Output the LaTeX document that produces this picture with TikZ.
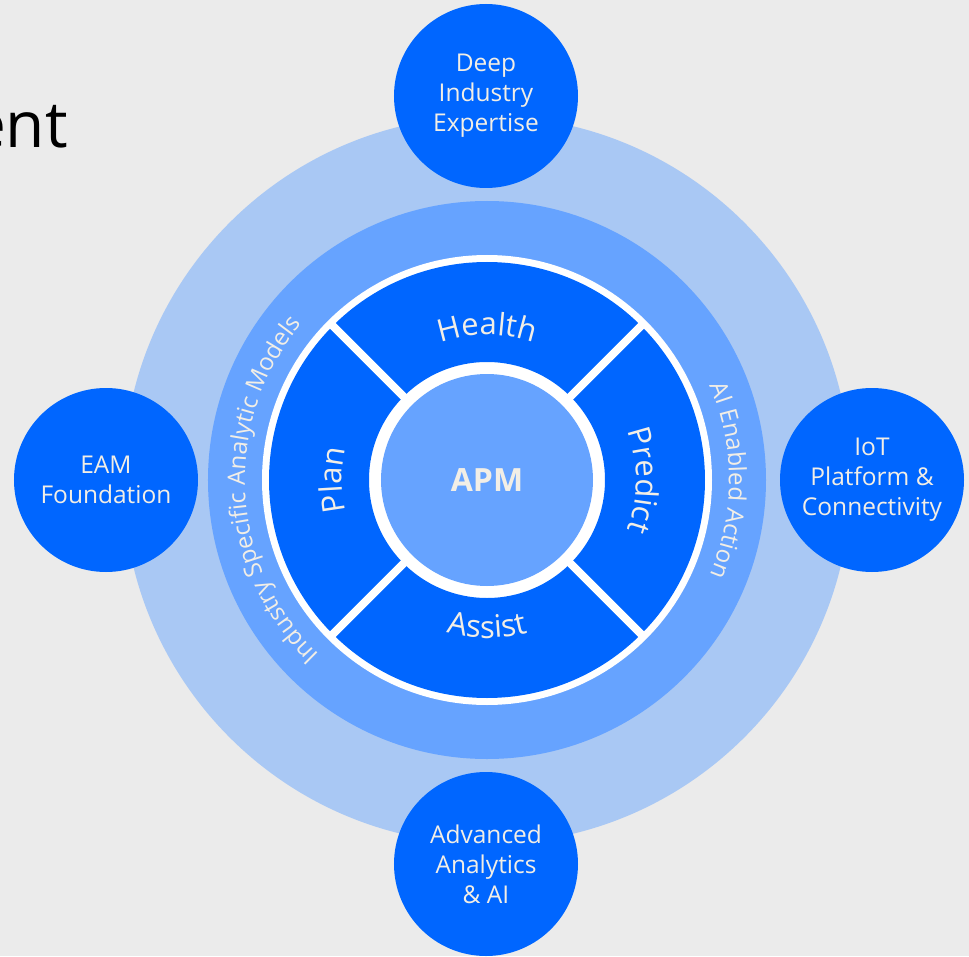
\documentclass[tikz,border=0pt]{standalone}
\usepackage{fontspec}
\setmainfont{Open Sans}
\usetikzlibrary{decorations.text}
\definecolor{bggray}{HTML}{EBEBEB}
\definecolor{apmouter}{HTML}{A9C8F4}
\definecolor{apmmid}{HTML}{66A3FF}
\definecolor{apmdark}{HTML}{0066FF}
\definecolor{cream}{HTML}{F2EEE6}
\newcommand{\ringfont}{\fontsize{24}{24}\selectfont}
\newcommand{\segfont}{\fontsize{31}{31}\selectfont}
\tikzset{x=1pt, y=1pt, % one unit is one pixel of the reference
sat/.style={circle, fill=apmdark, minimum size=184pt, inner sep=0pt, align=center, text=cream, font=\fontsize{24.5}{30}\selectfont}, % the four outer circles
ringtext/.style={decorate, decoration={text along path, text align=center, text color=cream, text={|\ringfont|#1}}}, % labels of the middle ring
segtext/.style={decorate, decoration={text along path, text align=center, text color=cream, text={|\segfont|#1}}}, % labels of the four segments
}
\begin{document}
\begin{tikzpicture}
\useasboundingbox[fill=bggray] (-487,-476) rectangle (482,480);
\node[anchor=base east, inner sep=0pt, font=\fontsize{64}{64}\selectfont] (title) at (-419,332) {ent};
\fill[apmouter] (0,0) circle[radius=364];
\node[sat] (deep) at (-1,384) {Deep\\Industry\\Expertise};
\node[sat] (eam) at (-381,0) {EAM\\Foundation};
\node[sat] (iot) at (385,0) {IoT\\Platform \&\\Connectivity};
\node[sat] (adv) at (-1,-384) {Advanced\\Analytics\\\& AI};
\fill[apmmid] (0,0) circle[radius=279];
\fill[white] (0,0) circle[radius=225];
\fill[apmdark, even odd rule] (0,0) circle[radius=218] (0,0) circle[radius=118];
\foreach \a in {45,135,225,315}
  \draw[white, line width=8pt] (\a:110) -- (\a:222);
\node[circle, fill=apmmid, minimum size=212pt, inner sep=0pt, text=cream, font=\fontsize{32}{32}\selectfont\bfseries] (apm) at (0,0) {APM};
% ring labels
\path[ringtext={Industry Specific Analytic Models}] (260:242) arc[start angle=260, end angle=106, radius=242];
\path[ringtext={AI Enabled Action}] (45:242) arc[start angle=45, end angle=-45, radius=242];
% segment labels
\path[segtext={Health}] (120:145) arc[start angle=120, end angle=60, radius=145];
\path[segtext={Plan}] (210:145) arc[start angle=210, end angle=150, radius=145];
\path[segtext={Predict}] (30:149) arc[start angle=30, end angle=-30, radius=149];
\path[segtext={Assist}] (240:158) arc[start angle=240, end angle=300, radius=158];
\end{tikzpicture}
\end{document}
